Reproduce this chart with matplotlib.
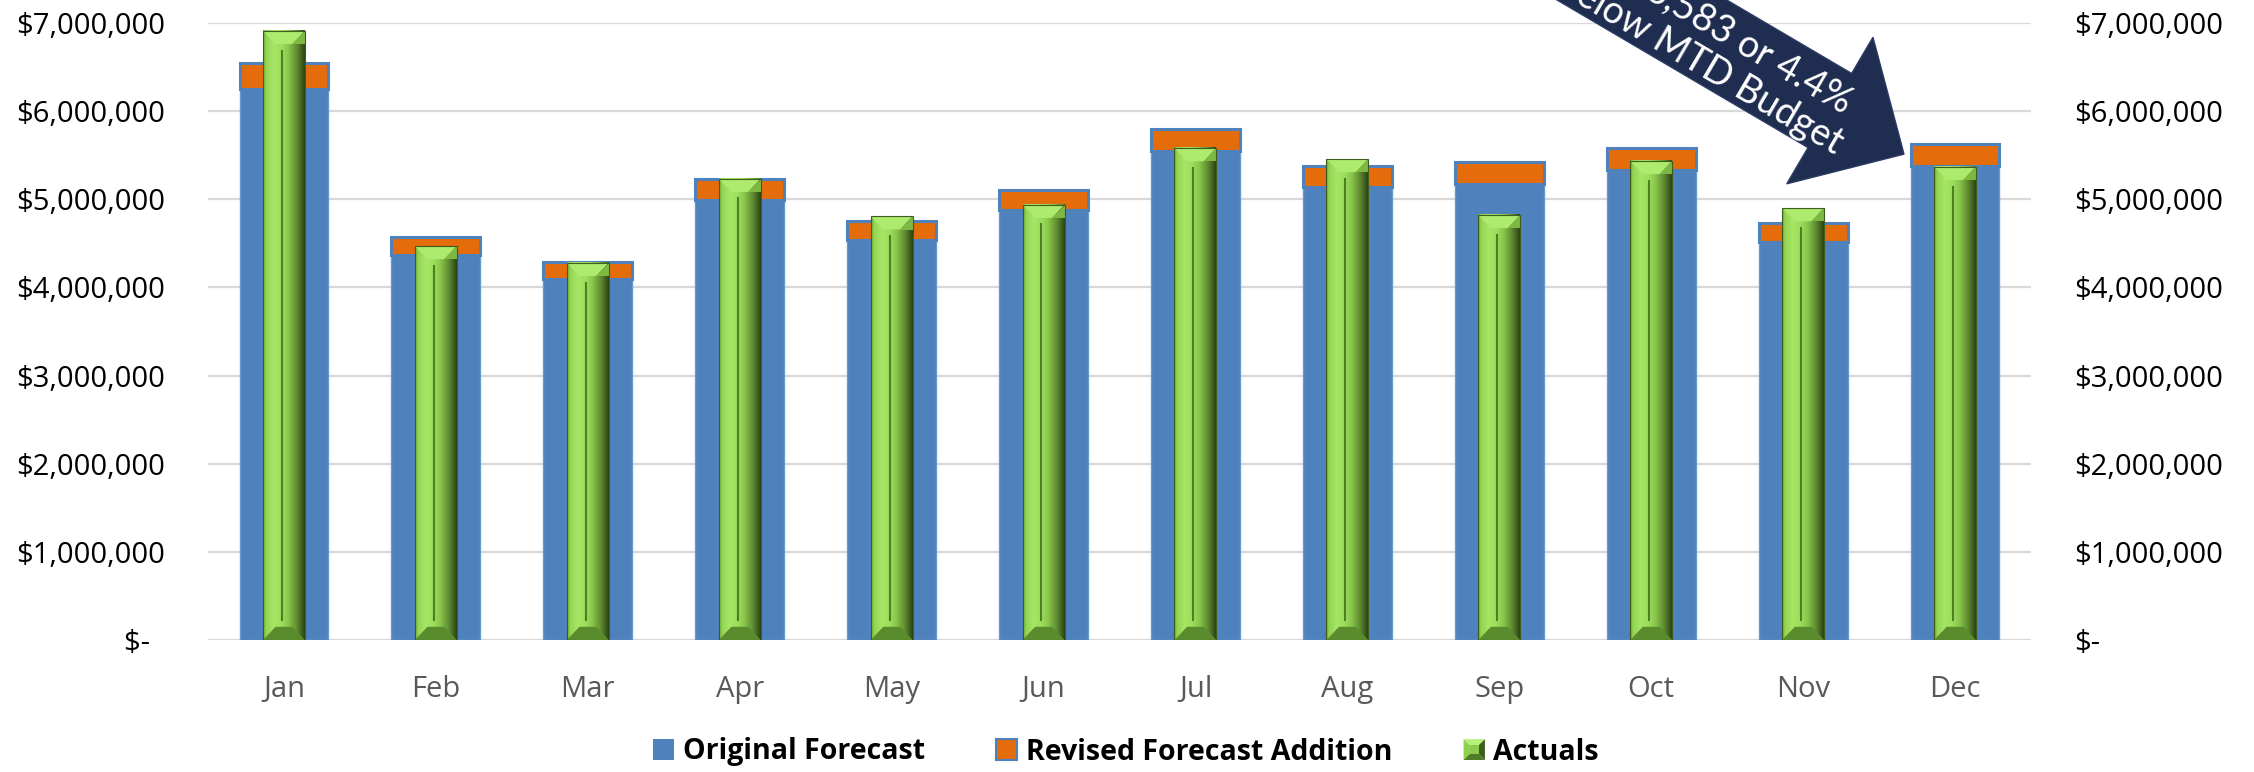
import numpy as np
import matplotlib
matplotlib.use("Agg")
import matplotlib.pyplot as plt
from matplotlib.patches import Polygon, Rectangle, FancyArrow
from matplotlib.legend_handler import HandlerBase
from matplotlib.ticker import FuncFormatter
from matplotlib.colors import to_rgb

plt.rcParams["font.family"] = ["Open Sans", "DejaVu Sans"]

# monthly figures
months = ["Jan", "Feb", "Mar", "Apr", "May", "Jun", "Jul", "Aug", "Sep", "Oct", "Nov", "Dec"]
original = [6250000, 4365000, 4096000, 4996000, 4535000, 4875000,
            5548000, 5136000, 5177000, 5332000, 4516000, 5378000]
revised_add = [300000, 204000, 193000, 231000, 215000, 231000,
               253000, 238000, 243000, 254000, 211000, 249000]
actuals = [6910000, 4470000, 4280000, 5234000, 4807000, 4939000,
           5582000, 5457000, 4822000, 5435000, 4901000, 5370000]
yticks = [0, 1000000, 2000000, 3000000, 4000000, 5000000, 6000000, 7000000]
note = "\\$256,583 or 4.4%\nbelow MTD Budget"

BLUE = "#4F81BD"
ORANGE = "#E46C0A"
NAVY = "#1F2D50"

# horizontal shading for the bevelled actuals columns
stops = [0.0, 0.06, 0.25, 0.45, 0.6, 0.8, 0.93, 1.0]
stop_cols = ["#659F30", "#93D352", "#A6E665", "#9CDD5B", "#8AC84C", "#628F33", "#405F20", "#2C4415"]
pos = np.linspace(0, 1, 64)
rgb = np.array([to_rgb(c) for c in stop_cols])
grad = np.stack([np.interp(pos, stops, rgb[:, i]) for i in range(3)], axis=-1)[None, :, :]


def bevel_bar(ax, xc, top, w, bh):
    x0, x1 = xc - w / 2, xc + w / 2
    b = w * 0.3
    ax.imshow(grad, extent=(x0, x1, 0, top), aspect="auto", zorder=3, interpolation="bilinear")
    # top face
    ax.add_patch(Polygon([(x0, top), (x1, top), (x1 - b, top - bh), (x0 + b, top - bh)],
                         closed=True, fc="#ADEA6E", ec="none", zorder=4))
    ax.add_patch(Polygon([(x1, top), (x1, top - bh), (x1 - b, top - bh)],
                         closed=True, fc="#7DB843", ec="none", zorder=4))
    # bottom face
    ax.add_patch(Polygon([(x0, 0), (x1, 0), (x1 - b, bh), (x0 + b, bh)],
                         closed=True, fc="#5A8C2E", ec="none", zorder=4))
    # centre groove
    ax.plot([xc - w * 0.05] * 2, [bh * 1.5, top - bh * 1.5], color="#4E7F25", lw=1.5, zorder=4)
    ax.add_patch(Rectangle((x0, 0), w, top, fc="none", ec="#3E5E1F", lw=0.8, zorder=4))


class BevelHandler(HandlerBase):
    def create_artists(self, legend, orig_handle, xdescent, ydescent, width, height, fontsize, trans):
        x0, y0 = -xdescent, -ydescent
        x1, y1 = x0 + width, y0 + height
        ix, iy = width * 0.3, height * 0.3
        parts = [
            ([(x0, y1), (x1, y1), (x1 - ix, y1 - iy), (x0 + ix, y1 - iy)], "#B5F07A"),
            ([(x0, y0), (x0, y1), (x0 + ix, y1 - iy), (x0 + ix, y0 + iy)], "#8FD04E"),
            ([(x1, y0), (x1, y1), (x1 - ix, y1 - iy), (x1 - ix, y0 + iy)], "#3E5E1F"),
            ([(x0, y0), (x1, y0), (x1 - ix, y0 + iy), (x0 + ix, y0 + iy)], "#4F7E27"),
            ([(x0 + ix, y0 + iy), (x1 - ix, y0 + iy), (x1 - ix, y1 - iy), (x0 + ix, y1 - iy)], "#8CCB4C"),
        ]
        return [Polygon(pts, closed=True, fc=c, ec="none", transform=trans) for pts, c in parts]


fig = plt.figure(figsize=(22.54, 7.72), dpi=100)
ax = fig.add_axes([208 / 2254, 132 / 772, (2031 - 208) / 2254, (749 - 132) / 772])

x = np.arange(len(months))
ax.bar(x, original, 0.585, color=BLUE, edgecolor="#6A9AD4", linewidth=1, zorder=2)
ax.bar(x, revised_add, 0.585, bottom=original, color=ORANGE, edgecolor=BLUE, linewidth=2.2, zorder=2)
for xi, a in zip(x, actuals):
    bevel_bar(ax, xi, a, 0.276, 150000)

ax.set_xlim(-0.5, len(months) - 0.5)
ax.set_ylim(0, 7000000)
ax.set_yticks(yticks)
ax.set_xticks(x)
ax.set_xticklabels(months)
ax.yaxis.set_major_formatter(FuncFormatter(lambda v, p: "\\$-  " if v == 0 else f"\\${v:,.0f}"))
ax.grid(axis="y", color="#D9D9D9", lw=1.6)
ax.set_axisbelow(True)
for s in ax.spines.values():
    s.set_visible(False)
ax.tick_params(axis="y", length=0, pad=31, labelsize=21, labelcolor="black")
ax.tick_params(axis="x", length=0, pad=25, labelsize=21, labelcolor="#595959")

ax2 = ax.twinx()
ax2.set_ylim(0, 7000000)
ax2.set_yticks(yticks)
ax2.yaxis.set_major_formatter(FuncFormatter(lambda v, p: "\\$-" if v == 0 else f"\\${v:,.0f}"))
for s in ax2.spines.values():
    s.set_visible(False)
ax2.tick_params(axis="y", length=0, pad=31, labelsize=21, labelcolor="black")

# legend
h_orig = Rectangle((0, 0), 1, 1, fc=BLUE, ec="none")
h_rev = Rectangle((0, 0), 1, 1, fc=ORANGE, ec=BLUE, lw=1.5)
h_act = Rectangle((0, 0), 1, 1, fc="#8CCB4C")
fig.legend([h_orig, h_rev, h_act], ["Original Forecast", "Revised Forecast Addition", "Actuals"],
           handler_map={h_act: BevelHandler()},
           loc="center", bbox_to_anchor=(1126 / 2254, 1 - 752 / 772), ncol=3, frameon=False,
           prop=dict(family="Open Sans", weight="bold", size=20.5),
           handlelength=0.75, handleheight=0.75, handletextpad=0.3, columnspacing=2.5)

# callout arrow
arrow = FancyArrow(15.161, 8.46, 3.879, -2.2815, width=0.86, head_width=1.70, head_length=0.86,
                   length_includes_head=True, transform=fig.dpi_scale_trans,
                   fc=NAVY, ec="#2B3B63", lw=1, zorder=5)
fig.add_artist(arrow)
fig.text(17.11, 7.262, note, transform=fig.dpi_scale_trans, rotation=-30.45,
         rotation_mode="anchor", ha="center", va="center", ma="center",
         color="white", fontsize=27, family=["Lato", "DejaVu Sans"], linespacing=1.1, zorder=6)

fig.savefig("out.png", dpi=100)
